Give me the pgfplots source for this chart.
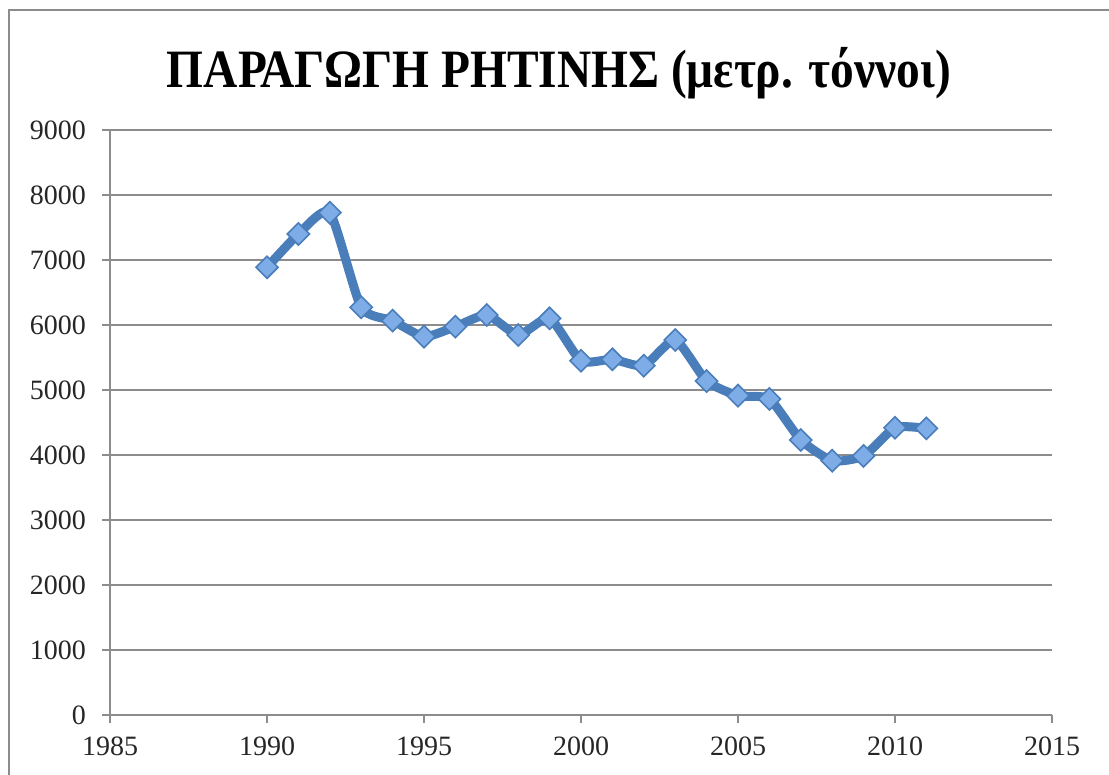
\documentclass[border=0pt]{standalone}
\usepackage{fontspec}
\setmainfont{Liberation Serif}
\usepackage{graphicx}
\usepackage{pgfplots}
\pgfplotsset{compat=1.18}
\definecolor{linec}{HTML}{4A7EBB}
\definecolor{markc}{HTML}{7EACE6}
\definecolor{gridc}{HTML}{8C8C8C}
\newsavebox\titlebox
\begin{document}
\sbox\titlebox{\fontsize{27pt}{30pt}\selectfont\bfseries ΠΑΡΑΓΩΓΗ ΡΗΤΙΝΗΣ (μετρ. τόννοι)}%
\begin{tikzpicture}[x=1pt,y=1pt]
\useasboundingbox (0,0) rectangle (554.5,387.5);
\draw[gridc, line width=1.2pt] (4.5,0) -- (4.5,382.5) -- (554.5,382.5);
\node[anchor=base] at (279.5,343.5) {\resizebox{392pt}{\ht\titlebox}{\usebox\titlebox}};
\begin{axis}[
  at={(55pt,30pt)}, anchor=south west,
  scale only axis, width=471pt, height=292.5pt,
  xmin=1985, xmax=2015, ymin=0, ymax=9000,
  xtick={1985,1990,...,2015}, ytick={0,1000,...,9000},
  axis x line*=bottom, axis y line*=left,
  axis line style={gridc, line width=1.2pt},
  ymajorgrids, grid style={gridc, line width=1.2pt},
  tick style={gridc, line width=1.2pt},
  tick align=outside, major tick length=4pt,
  ticklabel style={font=\fontsize{14pt}{15pt}\selectfont, text=black!85},
  xticklabel style={yshift=-3.5pt},
  yticklabel style={xshift=-4.5pt},
  /pgf/number format/assume math mode=true,
  /pgf/number format/1000 sep={},
  clip=false,
]
\addplot[linec, line width=4.5pt, smooth, tension=0.35,
  mark=square*, mark size=3.9pt,
  mark options={rotate=45, fill=markc, draw=linec, line width=0.8pt, solid}]
coordinates {
(1990,6887) (1991,7400) (1992,7728) (1993,6272) (1994,6067) (1995,5821)
(1996,5974) (1997,6154) (1998,5846) (1999,6103) (2000,5449) (2001,5472)
(2002,5374) (2003,5769) (2004,5138) (2005,4913) (2006,4862) (2007,4231)
(2008,3913) (2009,3985) (2010,4420) (2011,4410)
};
\end{axis}
\end{tikzpicture}
\end{document}
